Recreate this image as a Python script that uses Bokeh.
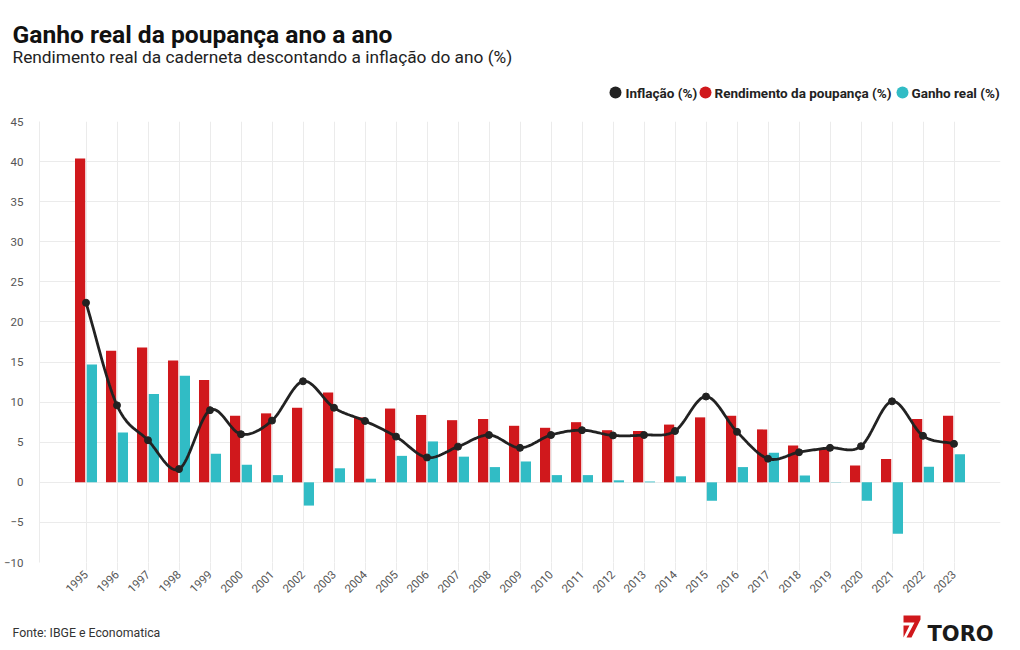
import numpy as np
from math import pi
from bokeh.plotting import figure
from bokeh.layouts import column
from bokeh.models import Range1d, FixedTicker, Label, ColumnDataSource
from bokeh.transform import dodge
from bokeh.embed import file_html
from bokeh.resources import INLINE

# ---------------- data ----------------
years = ["1995", "1996", "1997", "1998", "1999", "2000", "2001", "2002", "2003", "2004",
         "2005", "2006", "2007", "2008", "2009", "2010", "2011", "2012", "2013", "2014",
         "2015", "2016", "2017", "2018", "2019", "2020", "2021", "2022", "2023"]
inflacao = [22.4, 9.6, 5.25, 1.65, 9.0, 6.0, 7.7, 12.6, 9.3, 7.65,
            5.7, 3.1, 4.45, 5.9, 4.3, 5.9, 6.5, 5.85, 5.9, 6.4,
            10.7, 6.3, 2.95, 3.75, 4.3, 4.5, 10.1, 5.8, 4.8]
poupanca = [40.4, 16.4, 16.8, 15.2, 12.75, 8.3, 8.6, 9.3, 11.2, 8.1,
            9.2, 8.4, 7.75, 7.9, 7.05, 6.8, 7.5, 6.5, 6.4, 7.2,
            8.1, 8.3, 6.6, 4.6, 4.2, 2.1, 2.9, 7.9, 8.3]
ganho = [14.7, 6.2, 11.0, 13.3, 3.55, 2.2, 0.9, -2.9, 1.75, 0.45,
         3.3, 5.1, 3.2, 1.9, 2.6, 0.9, 0.9, 0.25, 0.1, 0.75,
         -2.3, 1.9, 3.7, 0.85, 0.05, -2.3, -6.4, 1.95, 3.5]
y_ticks = [-10, -5, 0, 5, 10, 15, 20, 25, 30, 35, 40, 45]
series_names = ["Inflação (%)", "Rendimento da poupança (%)", "Ganho real (%)"]

RED = "#d0181c"
CYAN = "#31bcc5"
DARK = "#222222"
GRID = "#ebebeb"
FONT = "Roboto"
W = 1020
series_colors = [DARK, RED, CYAN]

idx = list(range(len(years)))
src = ColumnDataSource(dict(x=idx, poup=poupanca, ganho=ganho, infl=inflacao))


def catmull_rom(xs, ys, n=20):
    xs = np.asarray(xs, float)
    ys = np.asarray(ys, float)
    px = np.concatenate([[2 * xs[0] - xs[1]], xs, [2 * xs[-1] - xs[-2]]])
    py = np.concatenate([[2 * ys[0] - ys[1]], ys, [2 * ys[-1] - ys[-2]]])
    ox, oy = [], []
    for i in range(1, len(px) - 2):
        t = np.linspace(0, 1, n, endpoint=False)
        for arr, out in ((px, ox), (py, oy)):
            p0, p1, p2, p3 = arr[i - 1], arr[i], arr[i + 1], arr[i + 2]
            out.extend(0.5 * ((2 * p1) + (-p0 + p2) * t +
                              (2 * p0 - 5 * p1 + 4 * p2 - p3) * t ** 2 +
                              (-p0 + 3 * p1 - 3 * p2 + p3) * t ** 3))
    ox.append(xs[-1])
    oy.append(ys[-1])
    return ox, oy


def blank(h):
    f = figure(width=W, height=h, output_backend="svg", toolbar_location=None,
               x_range=Range1d(0, W), y_range=Range1d(h, 0),
               x_axis_type=None, y_axis_type=None, frame_align=False,
               min_border=0, min_border_left=0, min_border_right=0,
               min_border_top=0, min_border_bottom=0)
    f.grid.visible = False
    f.outline_line_color = None
    f.background_fill_color = "white"
    f.border_fill_color = "white"
    return f


# ---------------- header (title, subtitle, legend) ----------------
HEAD = 110
head = blank(HEAD)
head.add_layout(Label(x=12, y=34, text="Ganho real da poupança ano a ano",
                      text_font=FONT, text_font_style="bold", text_font_size="24.6px",
                      text_color="#111111", text_baseline="alphabetic"))
head.add_layout(Label(x=12, y=56,
                      text="Rendimento real da caderneta descontando a inflação do ano (%)",
                      text_font=FONT, text_font_size="17.3px", text_color="#222222",
                      text_baseline="alphabetic"))
# legend: dot + bold label per series
legend_dot_x = [615, 705, 902]
legend_txt_x = [625, 714, 911]
head.scatter(legend_dot_x, [92] * 3, size=12, color=series_colors, line_color=None)
for tx, name in zip(legend_txt_x, series_names):
    head.add_layout(Label(x=tx, y=92, text=name, text_font=FONT,
                          text_font_style="bold", text_font_size="13.5px",
                          text_color=DARK, text_baseline="middle"))

# ---------------- main chart ----------------
sx, sy = catmull_rom(idx, inflacao)
p = figure(width=W, height=500, output_backend="svg", toolbar_location=None,
           x_range=Range1d(-1.5, len(years) + 0.5), y_range=Range1d(-10, 45),
           min_border_left=38, min_border_right=20, min_border_top=121 - HEAD,
           min_border_bottom=48, background_fill_color="white",
           border_fill_color="white", frame_align=False)
p.outline_line_color = None

p.xaxis.ticker = FixedTicker(ticks=idx)
p.xaxis.major_label_overrides = {i: y for i, y in zip(idx, years)}
p.xaxis.major_label_orientation = pi / 4
p.xaxis.major_tick_line_color = GRID
p.xaxis.major_tick_out = 8
p.xaxis.major_tick_in = 0
p.xaxis.minor_tick_line_color = None
p.xaxis.axis_line_color = None
p.xaxis.major_label_text_font = FONT
p.xaxis.major_label_text_font_size = "11.5px"
p.xaxis.major_label_text_color = "#555555"
p.xaxis.major_label_standoff = 2

p.yaxis.ticker = FixedTicker(ticks=y_ticks)
p.yaxis.major_tick_line_color = None
p.yaxis.minor_tick_line_color = None
p.yaxis.axis_line_color = GRID
p.yaxis.major_label_text_font = FONT
p.yaxis.major_label_text_font_size = "11.5px"
p.yaxis.major_label_text_color = "#555555"
p.yaxis.major_label_standoff = 10

p.xgrid.grid_line_color = GRID
p.ygrid.grid_line_color = GRID

p.vbar(x=dodge("x", -0.19), top="poup", width=0.33, source=src,
       fill_color=RED, line_color=None)
p.vbar(x=dodge("x", 0.19), top="ganho", width=0.33, source=src,
       fill_color=CYAN, line_color=None)
p.line(sx, sy, line_color=DARK, line_width=2.8)
p.scatter("x", "infl", source=src, size=7, color=DARK)

# ---------------- footer ----------------
FOOT_TOP = 121 + 441 + 48  # page y where footer starts
FOOT = 650 - FOOT_TOP
foot = blank(FOOT)
fy = lambda page_y: page_y - FOOT_TOP
foot.add_layout(Label(x=12, y=fy(632), text="Fonte: IBGE e Economatica",
                      text_font=FONT, text_font_size="12.3px", text_color="#333333",
                      text_baseline="alphabetic"))
foot.add_layout(Label(x=927, y=fy(633), text="TORO", text_font="DejaVu Sans",
                      text_font_style="bold", text_font_size="21px",
                      text_color="#1a1a1a", text_baseline="alphabetic"))
# logo mark
foot.patch([903, 920, 920, 911, 906, 914, 903],
           [fy(v) for v in (615, 615, 619, 637, 637, 622, 622)],
           fill_color=RED, line_color=None)
foot.patch([903, 909, 903], [fy(v) for v in (625, 625, 637)],
           fill_color=RED, line_color=None)

layout = column(head, p, foot, spacing=0)
open("out.html", "w").write(file_html(layout, INLINE))
